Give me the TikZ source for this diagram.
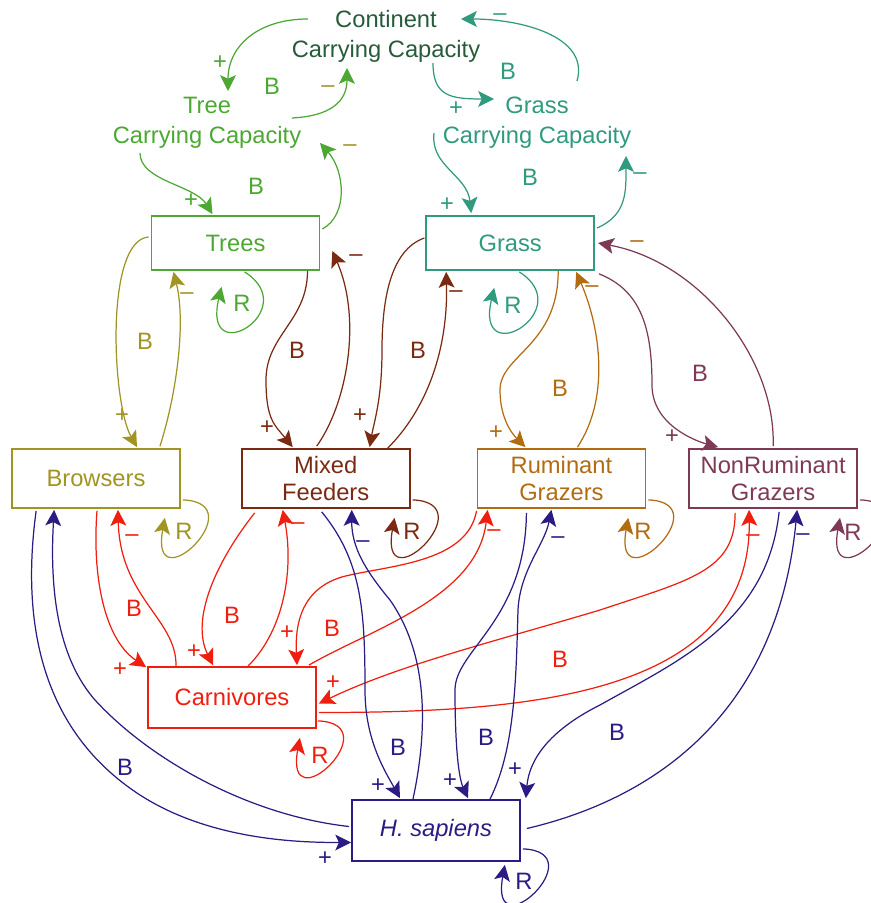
\documentclass[tikz,border=0pt]{standalone}
\usepackage{fontspec}
\setmainfont{Liberation Sans}
\usepackage{xcolor}
\definecolor{ContinentGreen}{HTML}{265C3A}
\definecolor{TreeGreen}{HTML}{4CA832}
\definecolor{GrassTeal}{HTML}{2F9A7E}
\definecolor{BrowserOlive}{HTML}{A09422}
\definecolor{MixedBrown}{HTML}{7B2A12}
\definecolor{RuminantOrange}{HTML}{B36B12}
\definecolor{NonRumMaroon}{HTML}{7E3A55}
\definecolor{CarnRed}{HTML}{F01E0E}
\definecolor{HomoBlue}{HTML}{2B1C84}
\usepackage{tikz}
\usetikzlibrary{arrows.meta, positioning, calc}
\tikzstyle{stock} = [rectangle, draw, minimum width=3.36cm, minimum height=1.18cm, inner sep=0pt, line width=1pt, align=center, font=\fontsize{13.5}{15.5}\selectfont]
\tikzstyle{capacity} = [align=center, inner sep=0pt, font=\fontsize{13.5}{17}\selectfont]
\tikzstyle{link} = [-{Stealth[length=9pt,width=9pt,inset=2pt]}, line width=0.7pt]
\tikzstyle{sign} = [inner sep=0pt, font=\fontsize{13.5}{15}\selectfont]
\tikzstyle{loopname} = [inner sep=0pt, font=\fontsize{13.5}{15}\selectfont]

\begin{document}
\begin{tikzpicture}[x=0.02cm, y=-0.02cm]
        \useasboundingbox (0,0) rectangle (870,903);

        % --- carrying capacities ---
        \node[capacity, ContinentGreen] (ccc) at (386,36) {Continent\\Carrying Capacity};
        \node[capacity, TreeGreen] (tcc) at (207,123) {Tree\\Carrying Capacity};
        \node[capacity, GrassTeal] (gcc) at (537,123) {Grass\\Carrying Capacity};

        % --- producers ---
        \node[stock, minimum height=1.08cm, TreeGreen] (trees) at (235.5,243) {Trees};
        \node[stock, minimum height=1.08cm, GrassTeal, right=2.1cm of trees] (grass) {Grass};

        % --- herbivores ---
        \node[stock, BrowserOlive] (brow) at (96,478.5) {Browsers};
        \node[stock, MixedBrown, right=1.2cm of brow] (mixed) {Mixed\\Feeders};
        \node[stock, RuminantOrange, right=1.32cm of mixed] (rum) {Ruminant\\Grazers};
        \node[stock, NonRumMaroon, right=0.84cm of rum] (nrum) {NonRuminant\\Grazers};

        % --- predators ---
        \node[stock, minimum height=1.22cm, CarnRed] (carn) at (232,697.5) {Carnivores};
        \node[stock, minimum height=1.22cm, HomoBlue] (homo) at (436,830.5) {\textit{H. sapiens}};

        % Capacity links
        \draw[link, TreeGreen] ($(ccc)+(-78,-17)$) .. controls +(-50,0) and +(0,-45) .. ($(tcc)+(21,-32)$);
        \draw[link, TreeGreen] ($(tcc)+(85,-5)$) .. controls +(38,-2) and +(0,34) .. ($(ccc)+(-39,32)$);
        \draw[link, GrassTeal] ($(ccc)+(47,27)$) .. controls +(0,33) and +(-44,0) .. ($(gcc)+(-43,-24)$);
        \draw[link, GrassTeal] ($(gcc)+(40,-42)$) .. controls +(13,-45) and +(59,0) .. ($(ccc)+(75,-17)$);
        \draw[link, TreeGreen] ($(tcc)+(-67,30)$) .. controls +(0,28) and +(-18,-29) .. ($(trees.north)+(-23,-1)$);
        \draw[link, TreeGreen] ($(trees.east)+(2,-14)$) .. controls +(26,-14) and +(25,28) .. ($(tcc)+(113,20)$);
        \draw[link, GrassTeal] ($(gcc)+(-103,10)$) .. controls +(-4,33) and +(-4,-38) .. ($(grass.north)+(-39,-2)$);
        \draw[link, GrassTeal] ($(grass.east)+(2,-15)$) .. controls +(30,-13) and +(0,35) .. ($(gcc)+(89,33)$);
        \draw[link, TreeGreen] ($(trees.south)+(9,1)$) .. controls +(60,38) and +(-20,85) .. ($(trees.south)+(-14,16)$);
        \draw[link, GrassTeal] ($(grass.south)+(9,1)$) .. controls +(60,38) and +(-20,85) .. ($(grass.south)+(-16,17)$);

        % Herbivore links
        \draw[link, BrowserOlive] ($(trees.west)+(-2,-6)$) .. controls +(-44,3) and +(-25,-44) .. ($(brow.north)+(41,-1)$);
        \draw[link, BrowserOlive] ($(brow.north)+(64,-2)$) .. controls +(18,-57) and +(12,48) .. ($(trees.south)+(-62,1)$);
        \draw[link, MixedBrown] ($(trees.south)+(72,0)$) .. controls +(0,50) and +(0,-45) .. (266,380) .. controls +(0,40) and +(-18,-22) .. ($(mixed.north)+(-33,-1)$);
        \draw[link, MixedBrown] ($(mixed.north)+(-9,-2)$) .. controls +(30,-42) and +(30,69) .. ($(trees.east)+(12,8)$);
        \draw[link, MixedBrown] ($(grass.west)+(-1,-5)$) .. controls +(-34,12) and +(0,-50) .. (382,350) .. controls +(0,50) and +(4,-24) .. ($(mixed.north)+(44,-1)$);
        \draw[link, MixedBrown] ($(mixed.north)+(62,0)$) .. controls +(39,-39) and +(2,78) .. ($(grass.south)+(-64,1)$);
        \draw[link, RuminantOrange] ($(grass.south)+(48,0)$) .. controls +(0,75) and +(0,-35) .. (500,390) .. controls +(0,30) and +(-12,-12) .. ($(rum.north)+(-36,-1)$);
        \draw[link, RuminantOrange] ($(rum.north)+(16,-1)$) .. controls +(32,-48) and +(25,58) .. ($(grass.south)+(66,1)$);
        \draw[link, NonRumMaroon] ($(grass.south east)+(4,3)$) .. controls +(43,17) and +(0,-55) .. (652,385) .. controls +(0,40) and +(-22,-6) .. ($(nrum.north)+(-55,-1)$);
        \draw[link, NonRumMaroon] ($(nrum.north)+(0,-2)$) .. controls +(3,-87) and +(102,19) .. ($(grass.east)+(3,0)$);
        \draw[link, BrowserOlive] ($(brow.south east)+(2,-9)$) .. controls +(73,3) and +(-16,88) .. ($(brow.south east)+(-16,9)$);
        \draw[link, MixedBrown] ($(mixed.south east)+(2,-9)$) .. controls +(73,3) and +(-16,88) .. ($(mixed.south east)+(-16,9)$);
        \draw[link, RuminantOrange] ($(rum.south east)+(2,-9)$) .. controls +(73,3) and +(-16,88) .. ($(rum.south east)+(-18,9)$);
        \draw[link, NonRumMaroon] ($(nrum.south east)+(2,-9)$) .. controls +(73,3) and +(-16,88) .. ($(nrum.south east)+(-18,9)$);

        % Carnivore links
        \draw[link, CarnRed] ($(brow.south)+(1,2)$) .. controls +(-5,65) and +(-42,-28) .. ($(carn.north west)+(-1,1)$);
        \draw[link, CarnRed] ($(carn.north)+(-56,0)$) .. controls +(1,-47) and +(2,88) .. ($(brow.south)+(22,1)$);
        \draw[link, CarnRed] ($(mixed.south)+(-71,4)$) .. controls +(-38,48) and +(-23,-46) .. ($(carn.north)+(-19,-1)$);
        \draw[link, CarnRed] ($(carn.north)+(16,0)$) .. controls +(37,-37) and +(11,58) .. ($(mixed.south)+(-43,1)$);
        \draw[link, CarnRed] ($(rum.south west)+(0,2)$) .. controls +(-9,50) and +(45,-10) .. (350,575) .. controls +(-50,10) and +(-2,-39) .. ($(carn.north)+(65,-1)$);
        \draw[link, CarnRed] ($(carn.north east)+(-8,-1)$) .. controls +(62,-36) and +(-10,88) .. ($(rum.south west)+(11,1)$);
        \draw[link, CarnRed] ($(nrum.south)+(-38,4)$) .. controls +(0,58) and +(90,-30) .. (600,610) .. controls +(-100,30) and +(81,-39) .. ($(carn.east)+(2,6)$);
        \draw[link, CarnRed] ($(carn.east)+(2,15)$) .. controls +(202,0) and +(2,188) .. ($(nrum.south)+(-24,1)$);
        \draw[link, CarnRed] ($(carn.south east)+(1,-8)$) .. controls +(73,3) and +(-16,88) .. ($(carn.south east)+(-17,9)$);

        % Human links
        \draw[link, HomoBlue] ($(brow.south west)+(25,2)$) .. controls +(-15,110) and +(-100,-65) .. (140,795) .. controls +(70,45) and +(-53,0) .. ($(homo.west)+(0,12)$);
        \draw[link, HomoBlue] ($(homo.west)+(-2,-4)$) .. controls +(-100,-11) and +(55,60) .. (95,700) .. controls +(-35,-40) and +(-5,87) .. ($(brow.south west)+(43,1)$);
        \draw[link, HomoBlue] ($(mixed.south)+(-4,3)$) .. controls +(40,49) and +(0,-80) .. (365,690) .. controls +(0,50) and +(-15,-27) .. ($(homo.north)+(-36,-1)$);
        \draw[link, HomoBlue] ($(homo.north)+(-23,0)$) .. controls +(17,-80) and +(35,50) .. (390,600) .. controls +(-25,-30) and +(0,37) .. ($(mixed.south)+(26,1)$);
        \draw[link, HomoBlue] ($(rum.south)+(-35,4)$) .. controls +(-1,108) and +(0,-40) .. (455,690) .. controls +(0,50) and +(-10,-22) .. ($(homo.north)+(32,-1)$);
        \draw[link, HomoBlue] ($(homo.north)+(54,0)$) .. controls +(25,-50) and +(-2,70) .. (518,610) .. controls +(2,-40) and +(-7,35) .. ($(rum.south)+(-10,1)$);
        \draw[link, HomoBlue] ($(nrum.south)+(6,3)$) .. controls +(-12,110) and +(80,-45) .. (600,705) .. controls +(-40,20) and +(4,-46) .. ($(homo.north east)+(5,-1)$);
        \draw[link, HomoBlue] ($(homo.east)+(6,-2)$) .. controls +(124,-29) and +(-20,207) .. ($(nrum.south)+(24,1)$);
        \draw[link, HomoBlue] ($(homo.south east)+(2,-13)$) .. controls +(73,3) and +(-16,88) .. ($(homo.south east)+(-16,3)$);

        % Polarity signs
        \node[sign, TreeGreen] (sg1) at (220,63) {+};
        \node[sign, BrowserOlive] (sg2) at (328,89) {–};
        \node[sign, GrassTeal] (sg3) at (456,109) {+};
        \node[sign, GrassTeal] (sg4) at (500,17) {–};
        \node[sign, TreeGreen] (sg5) at (191,201) {+};
        \node[sign, BrowserOlive] (sg6) at (350,148) {–};
        \node[sign, GrassTeal] (sg7) at (447,205) {+};
        \node[sign, GrassTeal] (sg8) at (640,176) {–};
        \node[sign, BrowserOlive] (sg9) at (122,416) {+};
        \node[sign, BrowserOlive] (sg10) at (187,296) {–};
        \node[sign, MixedBrown] (sg11) at (267,428) {+};
        \node[sign, MixedBrown] (sg12) at (356,258) {–};
        \node[sign, MixedBrown] (sg13) at (360,416) {+};
        \node[sign, MixedBrown] (sg14) at (456,294) {–};
        \node[sign, RuminantOrange] (sg15) at (496,433) {+};
        \node[sign, RuminantOrange] (sg16) at (592,289) {–};
        \node[sign, NonRumMaroon] (sg17) at (672,437) {+};
        \node[sign, RuminantOrange] (sg18) at (637,244) {–};
        \node[sign, CarnRed] (sg19) at (120,670) {+};
        \node[sign, CarnRed] (sg20) at (132,538) {–};
        \node[sign, CarnRed] (sg21) at (194,652) {+};
        \node[sign, CarnRed] (sg22) at (298,526) {–};
        \node[sign, CarnRed] (sg23) at (287,633) {+};
        \node[sign, CarnRed] (sg24) at (494,533) {–};
        \node[sign, CarnRed] (sg25) at (333,683) {+};
        \node[sign, CarnRed] (sg26) at (753,538) {–};
        \node[sign, HomoBlue] (sg27) at (325,859) {+};
        \node[sign, HomoBlue] (sg28) at (378,786) {+};
        \node[sign, HomoBlue] (sg29) at (363,544) {–};
        \node[sign, HomoBlue] (sg30) at (450,781) {+};
        \node[sign, HomoBlue] (sg31) at (558,540) {–};
        \node[sign, HomoBlue] (sg32) at (515,770) {+};
        \node[sign, HomoBlue] (sg33) at (803,537) {–};

        % Loop names
        \node[loopname, TreeGreen] (lp1) at (272,86) {B};
        \node[loopname, GrassTeal] (lp2) at (508,71) {B};
        \node[loopname, TreeGreen] (lp3) at (256,186) {B};
        \node[loopname, GrassTeal] (lp4) at (530,177) {B};
        \node[loopname, TreeGreen] (lp5) at (242,303) {R};
        \node[loopname, GrassTeal] (lp6) at (513,305) {R};
        \node[loopname, BrowserOlive] (lp7) at (145,341) {B};
        \node[loopname, MixedBrown] (lp8) at (297,350) {B};
        \node[loopname, MixedBrown] (lp9) at (418,350) {B};
        \node[loopname, RuminantOrange] (lp10) at (560,388) {B};
        \node[loopname, NonRumMaroon] (lp11) at (700,373) {B};
        \node[loopname, BrowserOlive] (lp12) at (184,531) {R};
        \node[loopname, MixedBrown] (lp13) at (412,531) {R};
        \node[loopname, RuminantOrange] (lp14) at (643,531) {R};
        \node[loopname, NonRumMaroon] (lp15) at (853,532) {R};
        \node[loopname, CarnRed] (lp16) at (134,608) {B};
        \node[loopname, CarnRed] (lp17) at (232,615) {B};
        \node[loopname, CarnRed] (lp18) at (332,628) {B};
        \node[loopname, CarnRed] (lp19) at (560,659) {B};
        \node[loopname, CarnRed] (lp20) at (320,755) {R};
        \node[loopname, HomoBlue] (lp21) at (125,767) {B};
        \node[loopname, HomoBlue] (lp22) at (398,747) {B};
        \node[loopname, HomoBlue] (lp23) at (486,737) {B};
        \node[loopname, HomoBlue] (lp24) at (617,732) {B};
        \node[loopname, HomoBlue] (lp25) at (524,881) {R};
    \end{tikzpicture}
\end{document}
